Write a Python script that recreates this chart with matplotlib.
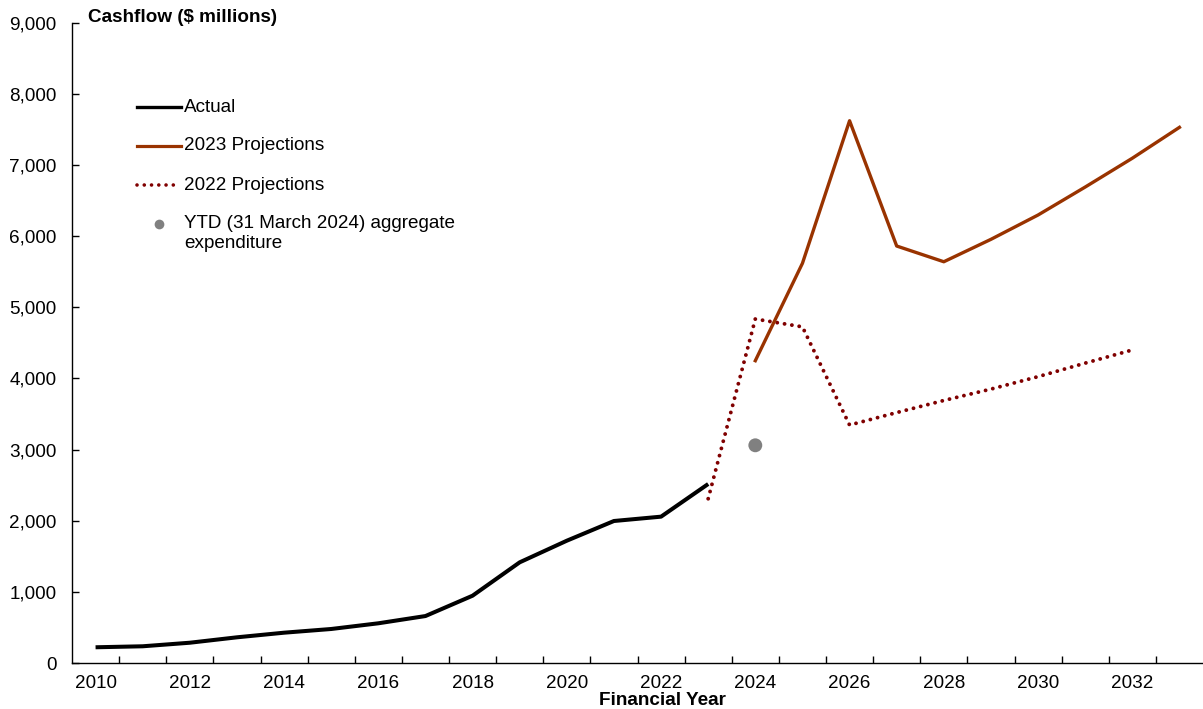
import matplotlib
matplotlib.use("Agg")
import matplotlib.pyplot as plt
from matplotlib.lines import Line2D
from matplotlib.ticker import FixedLocator, FuncFormatter

FS = 13.6
plt.rcParams['font.family'] = ['Liberation Sans', 'DejaVu Sans']
plt.rcParams['font.size'] = FS

# Cashflow data ($ millions) by financial year
actual_years = list(range(2010, 2024))
actual_values = [221, 235, 285, 361, 426, 478, 558, 660, 946, 1415, 1719, 1996, 2057, 2516]

proj2023_years = list(range(2024, 2034))
proj2023_values = [4249, 5618, 7622, 5861, 5640, 5955, 6297, 6690, 7095, 7529]

proj2022_years = list(range(2023, 2033))
proj2022_values = [2309, 4835, 4725, 3345, 3520, 3690, 3850, 4025, 4215, 4400]

ytd_year = [2024]
ytd_value = [3060]

year_labels = list(range(2010, 2033, 2))

c_actual = '#000000'
c_2023 = '#993300'
c_2022 = '#800000'
c_ytd = '#808080'

fig = plt.figure(figsize=(12.03, 7.09), dpi=100)
ax = fig.add_axes([72 / 1203, 46 / 709, 1131 / 1203, 640.3 / 709])

ax.plot(actual_years, actual_values, color=c_actual, lw=2.9,
        solid_joinstyle='round', solid_capstyle='butt', zorder=3)
ax.plot(proj2023_years, proj2023_values, color=c_2023, lw=2.4,
        solid_joinstyle='round', zorder=3)
ax.plot(proj2022_years, proj2022_values, color=c_2022, lw=2.8,
        dashes=(0.01, 1.9), dash_capstyle='round', zorder=2)
ax.scatter(ytd_year, ytd_value, s=100, color=c_ytd, edgecolors='none', zorder=4)

ax.set_xlim(2009.5, 2033.5)
ax.set_ylim(0, 9000)

ax.set_yticks(range(0, 9001, 1000))
ax.yaxis.set_major_formatter(FuncFormatter(lambda v, p: f"{int(v):,}"))
ax.set_xticks(year_labels)
ax.set_xticklabels([str(y) for y in year_labels])
ax.xaxis.set_minor_locator(FixedLocator([y + 0.5 for y in range(2010, 2033)]))

ax.tick_params(axis='y', which='major', direction='in', length=5, width=1,
               pad=11, labelsize=FS, colors='black')
ax.tick_params(axis='x', which='major', length=0, pad=8.5, labelsize=FS)
ax.tick_params(axis='x', which='minor', direction='in', length=5, width=1)

for side in ('top', 'right'):
    ax.spines[side].set_visible(False)
for side in ('left', 'bottom'):
    ax.spines[side].set_linewidth(1)
    ax.spines[side].set_color('black')

# Titles
fig.text(88 / 1203, 1 - 17 / 709, 'Cashflow ($ millions)', fontsize=FS,
         fontweight='bold', ha='left', va='center')
fig.text(662 / 1203, 1 - 705 / 709, 'Financial Year', fontsize=FS,
         fontweight='bold', ha='center', va='baseline')

# Legend drawn in axes coordinates
def ay(py):
    return (663 - py) / 640.3

def axx(px):
    return (px - 72) / 1131

hx0, hx1, tx = axx(137), axx(181), axx(184)
ax.add_line(Line2D([hx0, hx1], [ay(107)] * 2, transform=ax.transAxes,
                   color=c_actual, lw=2.4))
ax.add_line(Line2D([hx0, hx1], [ay(146)] * 2, transform=ax.transAxes,
                   color=c_2023, lw=2.3))
ax.add_line(Line2D([hx0, axx(178)], [ay(185)] * 2, transform=ax.transAxes,
                   color=c_2022, lw=2.6, dashes=(0.01, 2.0), dash_capstyle='round'))
ax.add_line(Line2D([axx(159)], [ay(224)], transform=ax.transAxes, marker='o',
                   markersize=7, color=c_ytd, markeredgewidth=0, linestyle='none'))

labels = ['Actual', '2023 Projections', '2022 Projections']
for lab, py in zip(labels, [107, 146, 185]):
    ax.text(tx, ay(py), lab, transform=ax.transAxes, fontsize=FS,
            ha='left', va='center')
ax.text(tx, ay(224), 'YTD (31 March 2024) aggregate', transform=ax.transAxes,
        fontsize=FS, ha='left', va='center')
ax.text(tx, ay(244), 'expenditure', transform=ax.transAxes,
        fontsize=FS, ha='left', va='center')

fig.savefig('out.png', dpi=100, facecolor='white')
